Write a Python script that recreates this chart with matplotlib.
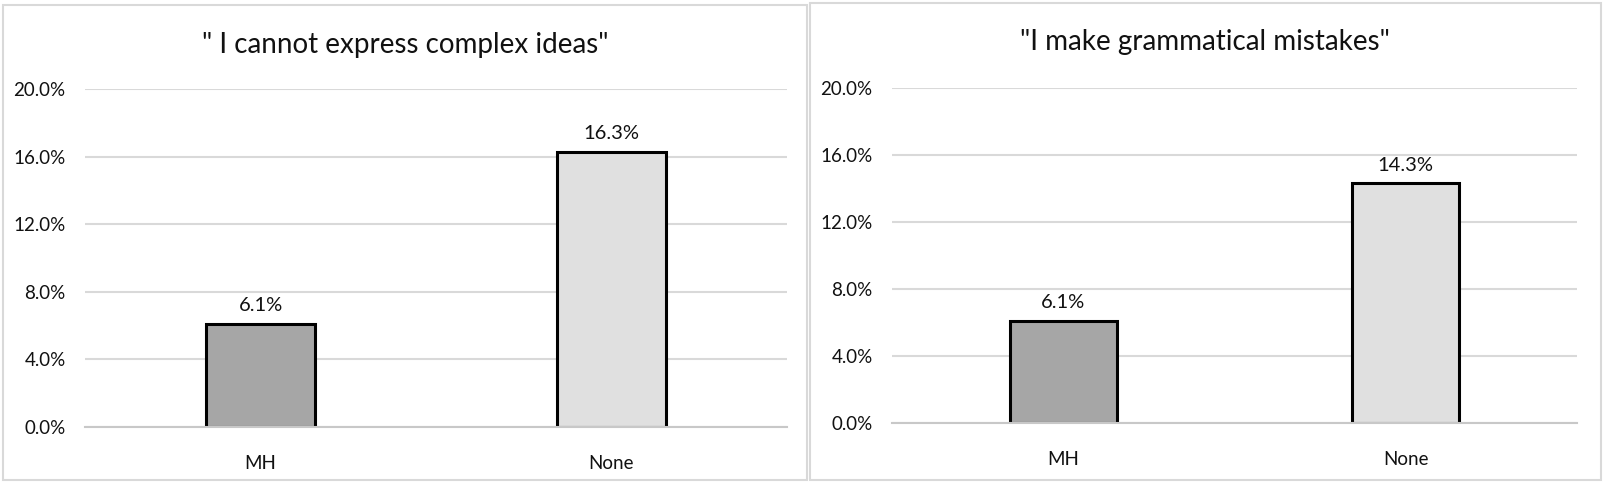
import matplotlib.pyplot as plt
from matplotlib.patches import Rectangle
from matplotlib.ticker import FuncFormatter

plt.rcParams['font.family'] = ['Lato', 'DejaVu Sans']

# data
categories = ['MH', 'None']
complex_ideas = [6.1, 16.3]
grammar_mistakes = [6.1, 14.3]
titles = ['" I cannot express complex ideas"', '"I make grammatical mistakes"']
y_ticks = [0, 4, 8, 12, 16, 20]

bar_colors = ['#a6a6a6', '#e0e0e0']
grid_color = '#d9d9d9'

W, H = 1605, 488
fig = plt.figure(figsize=(W / 100, H / 100), dpi=100)


def px_axes(x0, x1, y_top, y_bot):
    # pixel box (top-left origin) -> figure fraction
    return fig.add_axes([x0 / W, 1 - y_bot / H, (x1 - x0) / W, (y_bot - y_top) / H])


def panel_border(x0, x1, y_top, y_bot):
    fig.patches.append(Rectangle((x0 / W, 1 - y_bot / H), (x1 - x0) / W, (y_bot - y_top) / H,
                                 transform=fig.transFigure, fill=False,
                                 edgecolor=grid_color, linewidth=1.5))


def draw_panel(ax, values, title, title_x, title_y):
    xs = range(len(categories))
    ax.bar(xs, values, width=0.313, color=bar_colors, edgecolor='black', linewidth=2.2, zorder=3)
    ax.set_xlim(-0.5, 1.5)
    ax.set_ylim(0, 20)
    ax.set_yticks(y_ticks)
    ax.yaxis.set_major_formatter(FuncFormatter(lambda v, p: f'{v:.1f}%'))
    ax.set_xticks(list(xs))
    ax.set_xticklabels(categories)
    ax.grid(axis='y', color=grid_color, linewidth=1.5, zorder=0)
    for s in ['top', 'right', 'left']:
        ax.spines[s].set_visible(False)
    ax.spines['bottom'].set_color('#c8c8c8')
    ax.spines['bottom'].set_linewidth(1.5)
    ax.spines['bottom'].set_zorder(4)
    ax.tick_params(axis='both', length=0, labelsize=13.5, colors='#111111')
    ax.tick_params(axis='y', pad=14)
    ax.tick_params(axis='x', pad=20)
    for x, v in zip(xs, values):
        ax.annotate(f'{v:.1f}%', (x, v), xytext=(0, 7), textcoords='offset points',
                    ha='center', va='bottom', fontsize=14.5, color='#111111')
    fig.text(title_x / W, 1 - title_y / H, title, ha='center', va='center',
             fontsize=20, color='#111111')


panel_border(3, 807, 5, 480)
panel_border(810, 1601, 3, 480)

ax1 = px_axes(85, 787, 89, 427)
draw_panel(ax1, complex_ideas, titles[0], 405, 45)

ax2 = px_axes(892, 1577, 88, 423)
draw_panel(ax2, grammar_mistakes, titles[1], 1205, 42)

fig.savefig('out.png', dpi=100, facecolor='white')
